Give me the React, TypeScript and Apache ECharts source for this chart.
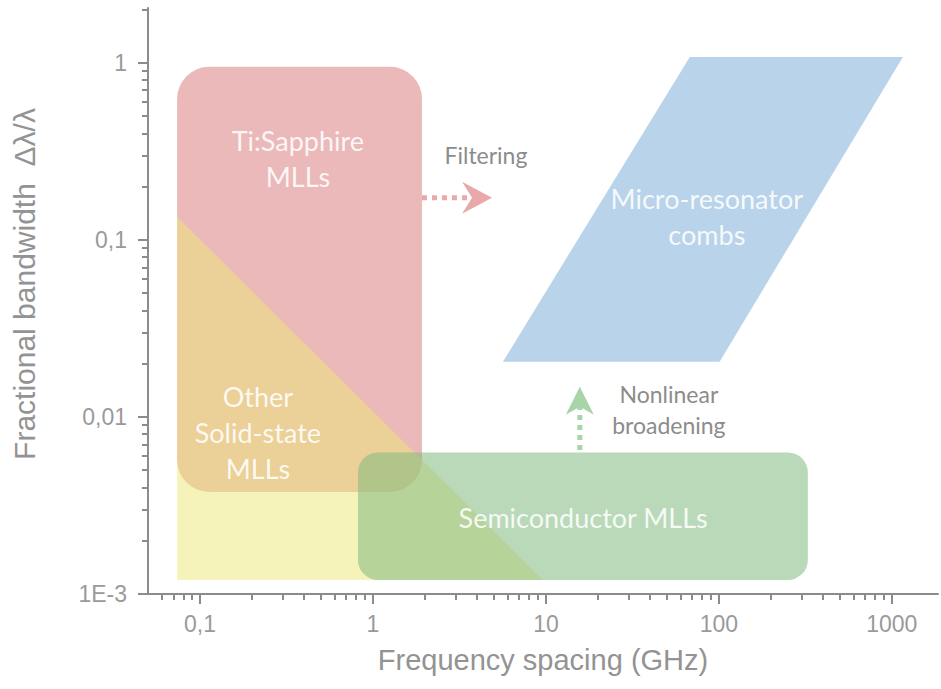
import React, { useEffect, useRef } from 'react';
import * as echarts from 'echarts';

// ---- axis ticks ----
const xMajorTicks = [0.1, 1, 10, 100, 1000];
const xMajorLabels = ['0,1', '1', '10', '100', '1000'];
const xMinorTicks = [
  0.06, 0.07, 0.08, 0.09,
  0.2, 0.3, 0.4, 0.5, 0.6, 0.7, 0.8, 0.9,
  2, 3, 4, 5, 6, 7, 8, 9,
  20, 30, 40, 50, 60, 70, 80, 90,
  200, 300, 400, 500, 600, 700, 800, 900,
];
const yMajorTicks = [0.001, 0.01, 0.1, 1];
const yMajorLabels = ['1E-3', '0,01', '0,1', '1'];
const yMinorTicks = [
  0.002, 0.003, 0.004, 0.005, 0.006, 0.007, 0.008, 0.009,
  0.02, 0.03, 0.04, 0.05, 0.06, 0.07, 0.08, 0.09,
  0.2, 0.3, 0.4, 0.5, 0.6, 0.7, 0.8, 0.9,
  2,
];
const xRange = [0.05, 1850];
const yRange = [0.001, 2.04];

// ---- regions (frequency spacing GHz, fractional bandwidth) ----
const tiSapphireX = [0.0737, 1.92];
const tiSapphireY = [0.00377, 0.949];
const solidStateX = [0.0737, 0.0737, 9.6];
const solidStateY = [0.135, 0.0012, 0.0012];
const semiconductorX = [0.819, 327];
const semiconductorY = [0.0012, 0.0063];
const microResonatorX = [5.64, 67.9, 1159, 101];
const microResonatorY = [0.0205, 1.08, 1.08, 0.0205];

// ---- arrows ----
const filteringArrowX = [1.92, 4.88];
const filteringArrowY = [0.173, 0.173];
const broadeningArrowX = [15.7, 15.7];
const broadeningArrowY = [0.0065, 0.0148];

// ---- labels ----
const regionLabels = ['Ti:Sapphire\nMLLs', 'Other\nSolid-state\nMLLs', 'Semiconductor MLLs', 'Micro-resonator\ncombs'];
const regionLabelX = [0.368, 0.216, 16.4, 85.2];
const regionLabelY = [0.287, 0.00812, 0.00269, 0.135];
const annotationLabels = ['Filtering', 'Nonlinear\nbroadening'];
const annotationX = [4.5, 51.4];
const annotationY = [0.302, 0.011];

const axisFont = '"Liberation Sans", Arial, sans-serif';
const shapeFont = 'Lato, "Open Sans", sans-serif';
const axisColor = '#8c8c8c';

function roundRectSeries(xs: number[], ys: number[], fill: string, r: number) {
  return {
    type: 'custom',
    xAxisIndex: 0,
    yAxisIndex: 0,
    silent: true,
    data: [[xs[0], ys[0], xs[1], ys[1]]],
    renderItem: (_params: any, api: any) => {
      const a = api.coord([api.value(0), api.value(3)]);
      const b = api.coord([api.value(2), api.value(1)]);
      return {
        type: 'rect',
        shape: { x: a[0], y: a[1], width: b[0] - a[0], height: b[1] - a[1], r },
        style: { fill },
      };
    },
  };
}

function polygonSeries(xs: number[], ys: number[], fill: string) {
  const flat: number[] = [];
  xs.forEach((x, i) => {
    flat.push(x, ys[i]);
  });
  return {
    type: 'custom',
    xAxisIndex: 0,
    yAxisIndex: 0,
    silent: true,
    data: [flat],
    renderItem: (_params: any, api: any) => {
      const pts: number[][] = [];
      for (let i = 0; i < xs.length; i++) {
        pts.push(api.coord([api.value(2 * i), api.value(2 * i + 1)]));
      }
      return { type: 'polygon', shape: { points: pts }, style: { fill } };
    },
  };
}

function arrowSeries(xs: number[], ys: number[], color: string, headLen: number, headHalf: number, notch: number) {
  return {
    type: 'custom',
    xAxisIndex: 0,
    yAxisIndex: 0,
    silent: true,
    data: [[xs[0], ys[0], xs[1], ys[1]]],
    renderItem: (_params: any, api: any) => {
      const p0 = api.coord([api.value(0), api.value(1)]);
      const p1 = api.coord([api.value(2), api.value(3)]);
      const dx = p1[0] - p0[0];
      const dy = p1[1] - p0[1];
      const len = Math.sqrt(dx * dx + dy * dy) || 1;
      const ux = dx / len;
      const uy = dy / len;
      const nx = -uy;
      const ny = ux;
      const bx = p1[0] - ux * headLen;
      const by = p1[1] - uy * headLen;
      const mx = bx + ux * notch;
      const my = by + uy * notch;
      return {
        type: 'group',
        children: [
          {
            type: 'line',
            shape: { x1: p0[0], y1: p0[1], x2: mx, y2: my },
            style: { stroke: color, lineWidth: 5, lineDash: [5, 5], lineCap: 'butt' },
          },
          {
            type: 'polygon',
            shape: {
              points: [
                [p1[0], p1[1]],
                [bx + nx * headHalf, by + ny * headHalf],
                [mx, my],
                [bx - nx * headHalf, by - ny * headHalf],
              ],
            },
            style: { fill: color },
          },
        ],
      };
    },
  };
}

function textSeries(texts: string[], xs: number[], ys: number[], color: string, fontSize: number, lineHeight: number) {
  return {
    type: 'custom',
    xAxisIndex: 0,
    yAxisIndex: 0,
    silent: true,
    data: xs.map((x, i) => [x, ys[i]]),
    renderItem: (params: any, api: any) => {
      const p = api.coord([api.value(0), api.value(1)]);
      return {
        type: 'text',
        x: p[0],
        y: p[1],
        style: {
          text: texts[params.dataIndex],
          align: 'center',
          verticalAlign: 'middle',
          fill: color,
          fontSize,
          fontFamily: shapeFont,
          lineHeight,
        },
      };
    },
  };
}

function labelFor(values: number[], labels: string[]) {
  return (v: number) => {
    const i = values.findIndex((t) => Math.abs(t - v) / t < 1e-6);
    return i >= 0 ? labels[i] : '';
  };
}

export default function App() {
  const ref = useRef<HTMLDivElement>(null);
  useEffect(() => {
    if (!ref.current) return;
    const chart = echarts.init(ref.current, undefined, { renderer: 'svg' });
    const gridBox = { left: 148, right: 3, top: 8, bottom: 95, outerBoundsMode: 'none' };
    const tickLine = { color: axisColor, width: 2 };
    chart.setOption({
      animation: false,
      backgroundColor: '#ffffff',
      grid: [{ ...gridBox }, { ...gridBox }],
      xAxis: [
        {
          type: 'log',
          gridIndex: 0,
          min: xRange[0],
          max: xRange[1],
          name: 'Frequency spacing (GHz)',
          nameLocation: 'middle',
          nameGap: 51,
          nameTextStyle: { fontSize: 29, color: '#939393', fontFamily: axisFont },
          axisLine: { show: true, onZero: false, lineStyle: { color: axisColor, width: 2 } },
          axisTick: { show: true, length: 10, customValues: xMajorTicks, lineStyle: tickLine },
          axisLabel: {
            show: true,
            customValues: xMajorTicks,
            formatter: labelFor(xMajorTicks, xMajorLabels),
            margin: 18,
            fontSize: 23,
            color: '#9a9a9a',
            fontFamily: axisFont,
          },
          splitLine: { show: false },
        },
        {
          type: 'log',
          gridIndex: 1,
          min: xRange[0],
          max: xRange[1],
          axisLine: { show: false, onZero: false },
          axisTick: { show: true, length: 6, customValues: xMinorTicks, lineStyle: tickLine },
          axisLabel: { show: false },
          splitLine: { show: false },
        },
      ],
      yAxis: [
        {
          type: 'log',
          gridIndex: 0,
          min: yRange[0],
          max: yRange[1],
          name: 'Fractional bandwidth  Δλ/λ',
          nameLocation: 'middle',
          nameGap: 109,
          nameTextStyle: { fontSize: 30, color: '#939393', fontFamily: axisFont, padding: [0, 0, 0, 34] },
          axisLine: { show: true, onZero: false, lineStyle: { color: axisColor, width: 2 } },
          axisTick: { show: true, length: 10, customValues: yMajorTicks, lineStyle: tickLine },
          axisLabel: {
            show: true,
            customValues: yMajorTicks,
            formatter: labelFor(yMajorTicks, yMajorLabels),
            margin: 21,
            fontSize: 23,
            color: '#9a9a9a',
            fontFamily: axisFont,
          },
          splitLine: { show: false },
        },
        {
          type: 'log',
          gridIndex: 1,
          min: yRange[0],
          max: yRange[1],
          axisLine: { show: false, onZero: false },
          axisTick: { show: true, length: 6, customValues: yMinorTicks, lineStyle: tickLine },
          axisLabel: { show: false },
          splitLine: { show: false },
        },
      ],
      series: [
        roundRectSeries(tiSapphireX, tiSapphireY, '#ebb9ba', 32),
        polygonSeries(solidStateX, solidStateY, 'rgba(235,231,115,0.5)'),
        roundRectSeries(semiconductorX, semiconductorY, 'rgba(130,186,128,0.55)', 20),
        polygonSeries(microResonatorX, microResonatorY, '#b9d3ea'),
        arrowSeries(filteringArrowX, filteringArrowY, '#e9a9aa', 30, 16, 10),
        arrowSeries(broadeningArrowX, broadeningArrowY, '#a9d4a9', 28, 14, 8),
        textSeries(regionLabels, regionLabelX, regionLabelY, 'rgba(255,255,255,0.88)', 27, 36),
        textSeries(annotationLabels, annotationX, annotationY, '#8c8c8c', 23, 31),
      ],
    });
    return () => chart.dispose();
  }, []);
  return (
    <div
      ref={ref}
      style={{ position: 'fixed', left: 0, top: 0, width: 941, height: 689, background: '#fff' }}
    />
  );
}
